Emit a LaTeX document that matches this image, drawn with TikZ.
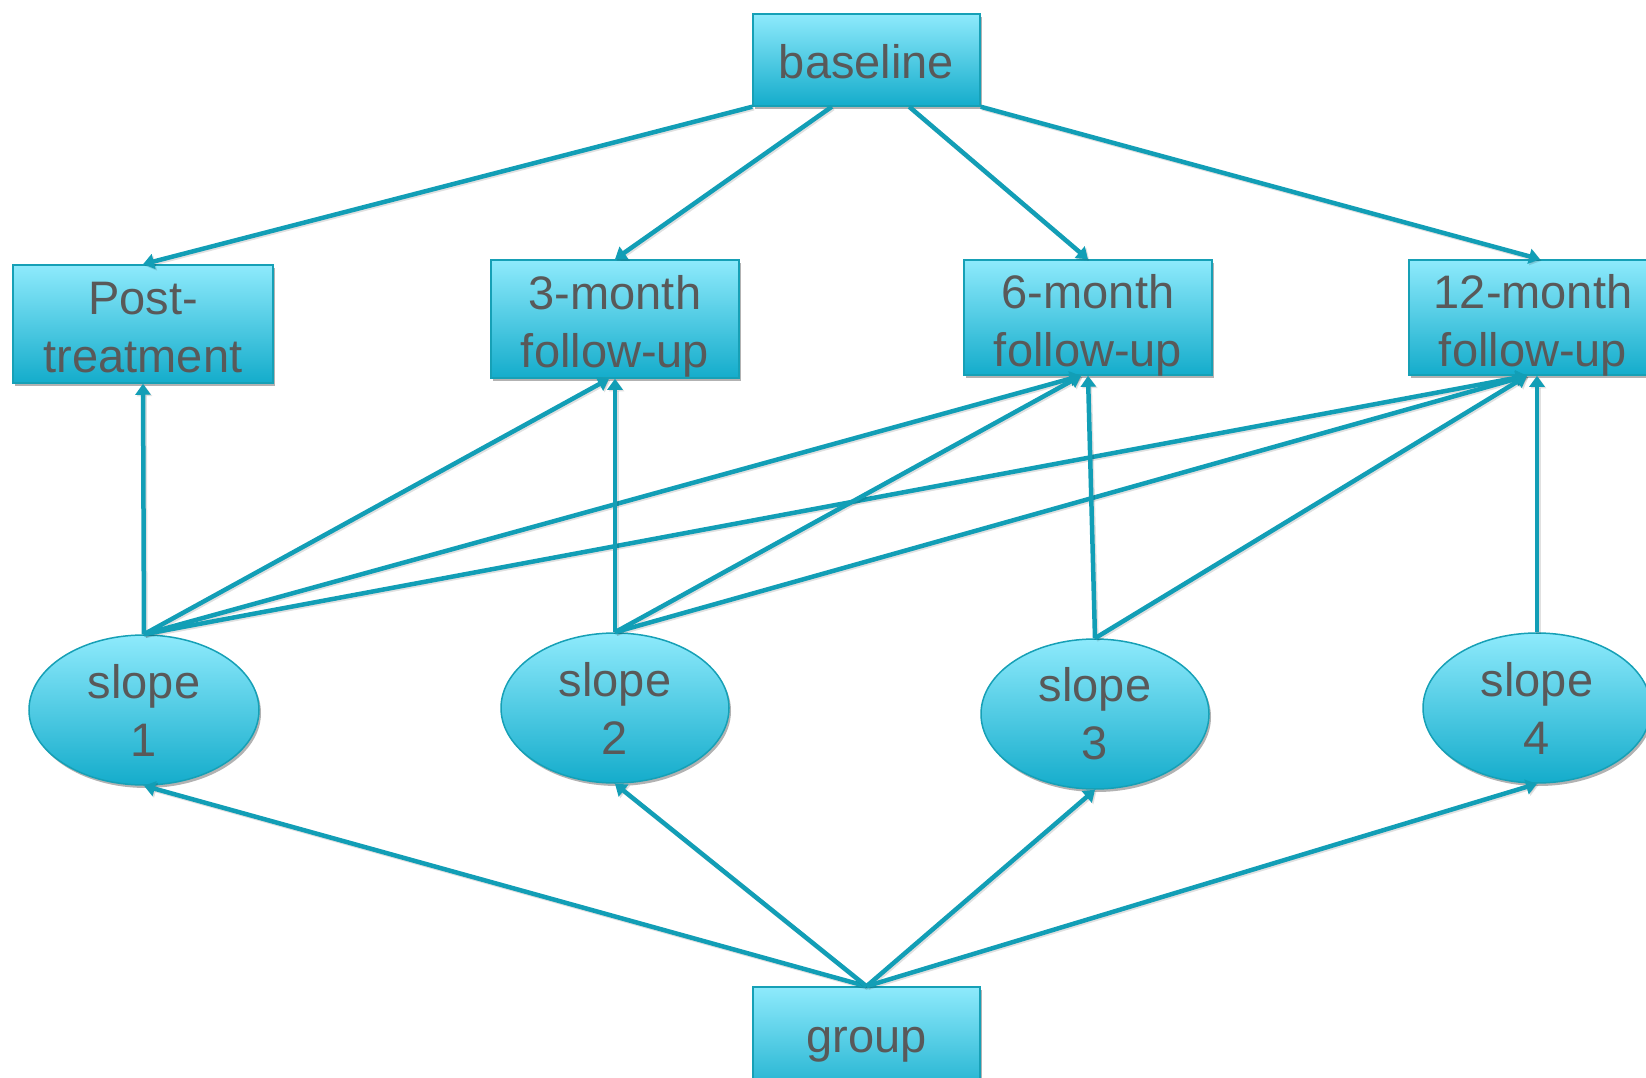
\documentclass[tikz,border=0pt]{standalone}
\usepackage{fontspec}
\setmainfont{Liberation Sans}
\usetikzlibrary{arrows.meta,shapes.geometric,shadows,calc}
\definecolor{topc}{RGB}{142,234,252}
\definecolor{botc}{RGB}{20,172,203}
\definecolor{edgec}{RGB}{22,160,182}
\definecolor{linec}{RGB}{18,158,182}
\definecolor{txtc}{RGB}{89,89,89}
\newcommand{\twoline}[2]{\raisebox{0pt}[64.2pt][35.8pt]{\begin{tabular}{@{}c@{}}#1\\#2\end{tabular}}}
\begin{document}
\begin{tikzpicture}[x=1pt,y=-1pt,
  boxbase/.style={draw=edgec, line width=1.5pt, top color=topc, bottom color=botc,
    text=txtc, inner sep=0pt,
    font=\fontsize{47}{58}\selectfont,
    drop shadow={opacity=0.3,shadow xshift=2pt,shadow yshift=-3pt,fill=black}},
  sbox/.style={boxbase, rectangle},
  sell/.style={boxbase, ellipse, align=center},
  conn/.style={draw=linec, line width=4.5pt, -{Triangle[width=15pt,length=11pt]},
    preaction={draw=black, opacity=0.12, line width=4.5pt, transform canvas={shift={(1.5pt,-1.5pt)}}}}
]
\useasboundingbox (0,0) rectangle (1646,1078);
\clip (0,0) rectangle (1646,1078);
\node[sbox, minimum width=227pt, minimum height=92pt, text height=38pt, text depth=0pt] (base) at (866.5,60) {baseline};
\node[sbox, minimum width=260pt, minimum height=118pt] (post) at (143,324) {\twoline{Post-}{treatment}};
\node[sbox, minimum width=248pt, minimum height=118pt] (m3) at (615,319) {\twoline{3-month}{follow-up}};
\node[sbox, minimum width=248pt, minimum height=115pt] (m6) at (1088,317.5) {\twoline{6-month}{follow-up}};
\node[sbox, minimum width=248pt, minimum height=115pt] (m12) at (1533,317.5) {\twoline{12-month}{follow-up}};
\node[sell, minimum width=230pt, minimum height=150pt] (s1) at (144,710) {slope\\1};
\node[sell, minimum width=228pt, minimum height=150pt] (s2) at (615,708) {slope\\2};
\node[sell, minimum width=228pt, minimum height=150pt] (s3) at (1095,714) {slope\\3};
\node[sell, minimum width=228pt, minimum height=150pt] (s4) at (1537,708) {slope\\4};
\node[sbox, minimum width=227pt, minimum height=116pt] (grp) at (866.5,1045) {group};

% baseline to outcomes
\draw[conn] (base.south west) -- (post.north);
\draw[conn] ($(base.south west)!0.348!(base.south east)$) -- (m3.north);
\draw[conn] ($(base.south west)!0.687!(base.south east)$) -- (m6.north);
\draw[conn] (base.south east) -- ($(m12.north)+(7,0)$);

% slopes to outcomes
\draw[conn] (s1.north) -- (post.south);
\draw[conn] (s1.north) -- ($(m3.south)+(-6,0)$);
\draw[conn] (s1.north) -- ($(m6.south)+(-7,0)$);
\draw[conn] (s1.north) -- ($(m12.south)+(-6,0)$);
\draw[conn] (s2.north) -- (m3.south);
\draw[conn] (s2.north) -- ($(m6.south)+(-7,0)$);
\draw[conn] (s2.north) -- ($(m12.south)+(-6,0)$);
\draw[conn] (s3.north) -- (m6.south);
\draw[conn] (s3.north) -- ($(m12.south)+(-6,0)$);
\draw[conn] (s4.north) -- ($(m12.south)+(4,0)$);

% group to slopes
\draw[conn] (grp.north) -- (s1.south);
\draw[conn] (grp.north) -- (s2.south);
\draw[conn] (grp.north) -- (s3.south);
\draw[conn] (grp.north) -- (s4.south);
\end{tikzpicture}
\end{document}
